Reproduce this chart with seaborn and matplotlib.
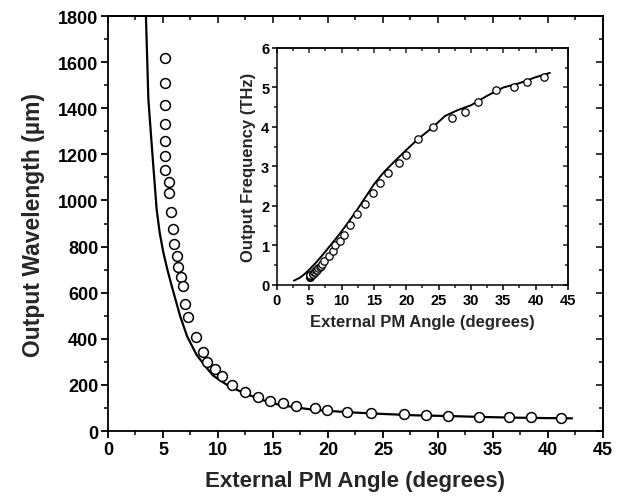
import numpy as np
import pandas as pd
import matplotlib
matplotlib.use("Agg")
import matplotlib.pyplot as plt
from matplotlib.ticker import MultipleLocator
import seaborn as sns

# main panel: measured output wavelength vs external phase-matching angle
wl_angle = [5.18, 5.18, 5.18, 5.18, 5.18, 5.18, 5.18, 5.57, 5.57, 5.70, 5.88,
            6.03, 6.24, 6.39, 6.60, 6.79, 7.03, 7.24, 8.0, 8.6, 9.03, 9.73,
            10.36, 11.3, 12.45, 13.6, 14.7, 15.9, 17.06, 18.8, 19.9, 21.7,
            23.9, 26.9, 28.9, 30.9, 33.7, 36.5, 38.5, 41.2]
wl_meas = [1616, 1508, 1414, 1331, 1258, 1194, 1133, 1081, 1032, 948, 876,
           811, 760, 710, 666, 630, 551, 493, 406, 344, 300, 269,
           240, 199, 168, 146, 131, 121, 107, 98, 92, 84,
           78, 72, 69, 66, 62, 59, 59, 56]

# main panel: calculated curve
wl_calc_angle = [3.45, 3.67, 3.9, 4.12, 4.42, 4.7, 5.03, 5.4, 5.79, 6.55, 7.2,
                 8.06, 9.0, 9.57, 10.5, 11.1, 12.6, 14.0, 15.6, 17.0, 18.7,
                 22.0, 25.0, 28.0, 31.0, 34.0, 37.0, 40.0, 42.2]
wl_calc = [1800, 1440, 1290, 1150, 963, 860, 775, 700, 630, 500, 410,
           330, 272, 240, 210, 192, 160, 135, 113, 103, 92,
           81, 74, 68, 65, 61, 58, 56, 55]

# inset: measured output frequency
fr_angle = [5.18, 5.18, 5.18, 5.18, 5.18, 5.18, 5.18, 5.57, 5.57, 5.70, 5.88,
            6.03, 6.24, 6.39, 6.60, 6.79, 7.03, 7.24, 8.0, 8.6, 9.03, 9.73,
            10.36, 11.3, 12.45, 13.6, 14.8, 16.0, 17.2, 18.9, 20.0, 21.8,
            24.1, 27.0, 29.1, 31.1, 33.8, 36.6, 38.7, 41.3]
fr_meas = [0.19, 0.20, 0.21, 0.23, 0.24, 0.25, 0.26, 0.28, 0.29, 0.32, 0.34,
           0.37, 0.39, 0.42, 0.45, 0.48, 0.54, 0.61, 0.74, 0.87, 1.00, 1.12,
           1.27, 1.53, 1.80, 2.05, 2.32, 2.57, 2.84, 3.10, 3.29, 3.70,
           3.99, 4.23, 4.39, 4.64, 4.94, 5.02, 5.15, 5.27]

# inset: calculated curve
fr_calc_angle = [2.63, 3.5, 4.0, 4.5, 5.0, 6.0, 7.0, 8.0, 9.0, 10.0, 11.0,
                 12.5, 14.0, 15.0, 16.5, 18.0, 20.0, 22.0, 24.0, 26.0, 28.0,
                 30.0, 32.5, 35.0, 37.5, 40.0, 42.2]
fr_calc = [0.11, 0.18, 0.24, 0.31, 0.39, 0.56, 0.75, 0.95, 1.15, 1.36, 1.58,
           1.93, 2.30, 2.55, 2.85, 3.10, 3.42, 3.72, 3.98, 4.28, 4.43,
           4.55, 4.79, 5.00, 5.11, 5.26, 5.37]

sns.set_style("ticks")
plt.rcParams["font.family"] = ["Liberation Sans", "DejaVu Sans"]
plt.rcParams["font.weight"] = "bold"
plt.rcParams["axes.labelweight"] = "bold"

fig = plt.figure(figsize=(6.21, 5.02), dpi=100)
ax = fig.add_axes([0.1739, 0.1394, 0.797, 0.8267])
ins = fig.add_axes([0.446, 0.4303, 0.4686, 0.4721])


def style_axes(a, xmaj, xmin, ymaj, ymin, lw, ticklen, labsize):
    for s in a.spines.values():
        s.set_visible(True)
        s.set_color("black")
        s.set_linewidth(lw)
    a.xaxis.set_major_locator(MultipleLocator(xmaj))
    a.xaxis.set_minor_locator(MultipleLocator(xmin))
    a.yaxis.set_major_locator(MultipleLocator(ymaj))
    a.yaxis.set_minor_locator(MultipleLocator(ymin))
    a.tick_params(which="major", direction="out", length=ticklen, width=lw,
                  labelsize=labsize, colors="black", pad=2)
    a.tick_params(which="minor", direction="out", length=ticklen * 0.6, width=lw)
    # mirrored ticks on top/right pointing inwards
    top = a.secondary_xaxis("top")
    top.xaxis.set_major_locator(MultipleLocator(xmaj))
    top.xaxis.set_minor_locator(MultipleLocator(xmin))
    top.tick_params(which="major", direction="in", length=ticklen, width=lw, labeltop=False)
    top.tick_params(which="minor", direction="in", length=ticklen * 0.6, width=lw)
    right = a.secondary_yaxis("right")
    right.yaxis.set_major_locator(MultipleLocator(ymaj))
    right.yaxis.set_minor_locator(MultipleLocator(ymin))
    right.tick_params(which="major", direction="in", length=ticklen, width=lw, labelright=False)
    right.tick_params(which="minor", direction="in", length=ticklen * 0.6, width=lw)
    for s in list(top.spines.values()) + list(right.spines.values()):
        s.set_linewidth(lw)


# main panel
sns.lineplot(x=wl_calc_angle, y=wl_calc, ax=ax, color="black", linewidth=1.6,
             sort=False, estimator=None)
sns.scatterplot(x=wl_angle, y=wl_meas, ax=ax, s=50, facecolor="white",
                edgecolor="black", linewidth=1.1, zorder=3)
ax.set_xlim(0, 45)
ax.set_ylim(0, 1800)
style_axes(ax, 5, 2.5, 200, 100, 1.3, 5, 13)
ax.set_xlabel("External PM Angle (degrees)", fontsize=16, labelpad=9)
ax.set_ylabel("Output Wavelength (\u00b5m)", fontsize=16.5, labelpad=9)

# inset
sns.lineplot(x=fr_calc_angle, y=fr_calc, ax=ins, color="black", linewidth=1.4,
             sort=False, estimator=None)
sns.scatterplot(x=fr_angle, y=fr_meas, ax=ins, s=28, facecolor="white",
                edgecolor="black", linewidth=0.9, zorder=3)
ins.set_xlim(0, 45)
ins.set_ylim(0, 6)
style_axes(ins, 5, 2.5, 1, 0.5, 1.1, 3.5, 10.5)
ins.set_xlabel("External PM Angle (degrees)", fontsize=12, labelpad=5)
ins.set_ylabel("Output Frequency (THz)", fontsize=12, labelpad=4)

fig.savefig("out.png", dpi=100)
